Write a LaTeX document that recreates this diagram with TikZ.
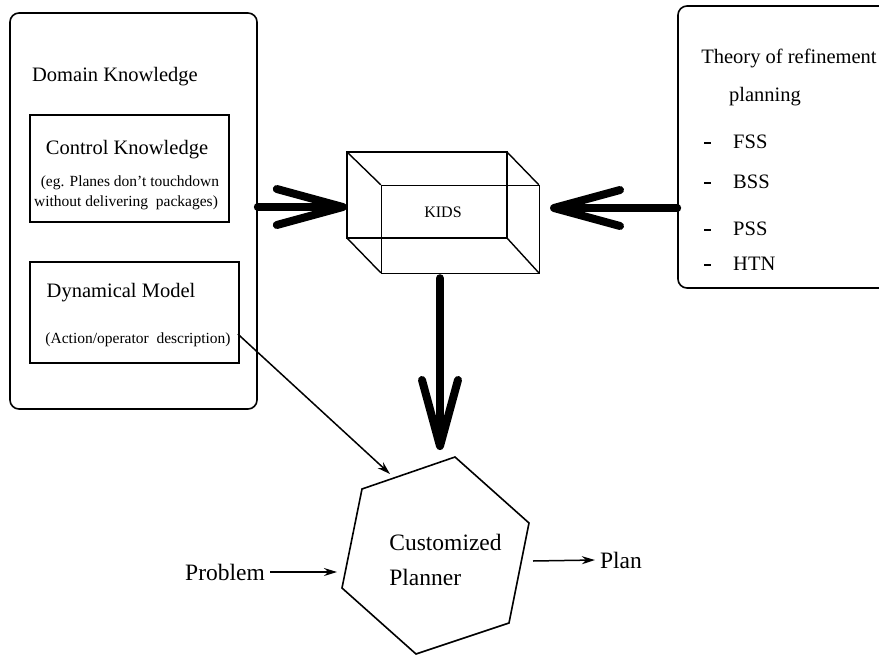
\documentclass[tikz,border=0pt]{standalone}
\usepackage{fontspec}
\setmainfont{Liberation Serif}
\usetikzlibrary{arrows.meta}
\begin{document}
\begin{tikzpicture}[x=1pt,y=-1pt,
  panel/.style={draw, line width=1.6pt, rounded corners=9pt, inner sep=0pt},
  subbox/.style={draw, line width=1.6pt, inner sep=0pt},
  edge3d/.style={line width=1.4pt},
  fbig/.style={inner sep=0pt, font=\fontsize{23.5}{35}\selectfont},
  fmain/.style={inner sep=0pt, font=\fontsize{20.5}{24}\selectfont},
  fsmall/.style={inner sep=0pt, font=\fontsize{15.5}{18}\selectfont},
  fkids/.style={inner sep=0pt, font=\fontsize{16}{19}\selectfont},
  bigarrow/.style={line width=8pt, line cap=round, -{Straight Barb[length=66pt,width=36pt,round]}},
  thinarrow/.style={line width=1.5pt, -{Stealth[length=13pt,width=8pt]}},
  bullet dash/.style={line width=2.2pt},
]
\useasboundingbox (0,0) rectangle (879,656);
\clip (0,0) rectangle (879,656);

% ---- domain knowledge panel
\node[panel, minimum width=247pt, minimum height=396pt] (dk) at (133.5,211) {};
\node[fmain] (dklabel) at (115,77) {Domain Knowledge};

\node[subbox, minimum width=199pt, minimum height=107pt] (ck) at (129.5,168.5) {};
\node[fmain] (cklabel) at (127,150) {Control Knowledge};
\node[fsmall] (ckl1) at (130,183) {(eg. Planes don't touchdown};
\node[fsmall] (ckl2) at (126,203) {without delivering~ packages)};

\node[subbox, minimum width=209pt, minimum height=101pt] (dm) at (134.5,312.5) {};
\node[fmain] (dmlabel) at (121,293) {Dynamical Model};
\node[fsmall] (dml1) at (138,340) {(Action/operator~ description)};

% ---- KIDS cuboid
\node[fkids, minimum width=192pt, minimum height=121pt] (kids) at (443,212.5) {KIDS};
\draw[edge3d] (kids.north west) rectangle ++(160,86);
\draw[edge3d] (kids.south east) rectangle ++(-158,-88);
\draw[edge3d] (kids.north west) -- ++(34,33);
\draw[edge3d] ([xshift=160pt]kids.north west) -- ++(32,33);
\draw[edge3d] ([yshift=-86pt]kids.north west) -- ++(34,35);
\draw[edge3d] ([yshift=-86pt,xshift=160pt]kids.north west) -- ++(32,35);

% ---- refinement planning theory panel
\node[panel, minimum width=230pt, minimum height=282pt] (th) at (793,147) {};
\node[fmain] (thl1) at (789,58) {Theory of refinement};
\node[fmain] (thl2) at (765,97) {planning};
\foreach \nm/\yy/\dy in {FSS/148/143, BSS/188/183, PSS/235/230, HTN/270/265}{
  \draw[bullet dash] (704,\dy) -- (711,\dy);
  \node[fmain, anchor=base west] at (733,\yy) {\nm};
}

% ---- customized planner
\coordinate (hA) at (455,457);
\coordinate (hB) at (529,523);
\coordinate (hC) at (509,623);
\coordinate (hD) at (416,654);
\coordinate (hE) at (342,588);
\coordinate (hF) at (362,489);
\draw[line width=1.6pt, line join=miter] (hA) -- (hB) -- (hC) -- (hD) -- (hE) -- (hF) -- cycle;
\node[fbig, align=left] (planner) at (445.5,559.5) {Customized\\Planner};

\node[fbig] (problem) at (225,572) {Problem};
\node[fbig] (plan) at (621,560) {Plan};

\coordinate (kidsin) at (440,450);
\coordinate (dynin) at (390,474);
\coordinate (probin) at (337,572);
\coordinate (planout) at (533,561);

% ---- connectors
\draw[bigarrow] (dk.east |- 0,207) -- (kids.west |- 0,207);
\draw[bigarrow] (th.west |- 0,208) -- (550,208);
\draw[bigarrow] (kids.south -| 440,0) ++(0,5) -- (kidsin);
\draw[thinarrow] ([shift={(-2pt,-21.5pt)}]dm.east) -- (dynin);
\draw[thinarrow] (problem.east) ++(5,0) -- (probin);
\draw[thinarrow] (planout) -- ([xshift=-5pt]plan.west);
\end{tikzpicture}
\end{document}
